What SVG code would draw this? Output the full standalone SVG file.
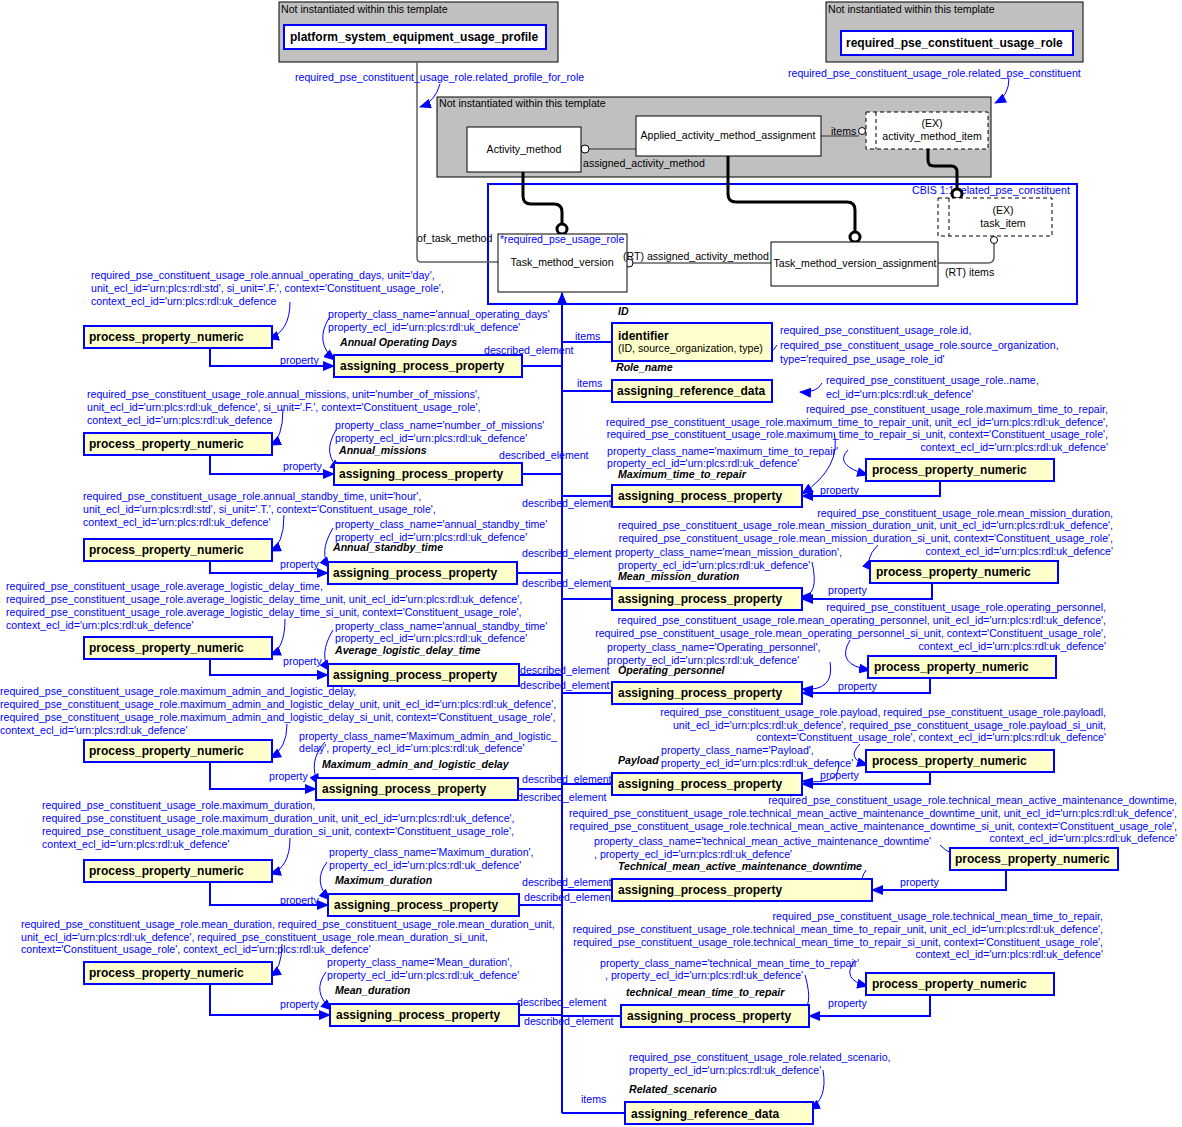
<svg xmlns="http://www.w3.org/2000/svg" width="1182" height="1127" viewBox="0 0 1182 1127">
<style>
text{font-family:"Liberation Sans",Arial,sans-serif;font-size:10.6px}
.b{fill:#0000ff}
.k{fill:#000}
.bi{font-weight:bold;font-style:italic;fill:#000}
.bx{font-weight:bold;font-size:12px;fill:#000}
.y{fill:#ffffcc;stroke:#0000ff;stroke-width:2}
.w{fill:#fff;stroke:#000;stroke-width:1}
.g{fill:#c0c0c0;stroke:#000;stroke-width:1}
.d{fill:#fff;stroke:#000;stroke-dasharray:4,3}
.bl{fill:none;stroke:#0000ff;stroke-width:2}
.bt{fill:none;stroke:#0000ff;stroke-width:1}
.gl{fill:none;stroke:#606060;stroke-width:1.5}
.th{fill:none;stroke:#000;stroke-width:3}
</style>
<defs>
<marker id="a" markerWidth="12" markerHeight="10" refX="11" refY="5" orient="auto" markerUnits="userSpaceOnUse"><path d="M0,0L12,5L0,10z" fill="#0000ff"/></marker>
</defs>
<g id="groups">
<rect class="g" x="279" y="2" width="279" height="60"/><text class="k" x="281" y="13">Not instantiated within this template</text>
<rect class="g" x="826" y="2" width="257" height="60"/><text class="k" x="828" y="13">Not instantiated within this template</text>
<rect class="g" x="437" y="97" width="554" height="80"/><text class="k" x="439" y="107">Not instantiated within this template</text>
<rect fill="none" stroke="#0000ff" stroke-width="2" x="488" y="184" width="589" height="120"/><text class="b" x="912" y="194">CBIS 1:1 related_pse_constituent</text>
</g>
<g id="connectors">
<path class="gl" d="M417,62V258q0,4 4,4H498"/>
<path class="gl" d="M589,149H650q8,0 8,-6q0,-4 8,-4H636"/>
<circle cx="585" cy="149" r="4" fill="#fff" stroke="#000"/>
<path class="gl" d="M821,136H859"/><circle cx="862" cy="131" r="3.5" fill="#fff" stroke="#000"/>
<path class="gl" d="M632,263H771"/><circle cx="629" cy="263" r="4" fill="#fff" stroke="#000"/>
<path class="gl" d="M938,263H988q6,0 6,-6V243"/><circle cx="994" cy="240" r="3.5" fill="#fff" stroke="#000"/>
<path class="th" d="M523,172V196q0,8 8,8H554q8,0 8,8V224"/><circle cx="562" cy="229" r="5" fill="#fff" stroke="#000" stroke-width="3"/>
<path class="th" d="M728,156V194q0,8 8,8H847q8,0 8,8V232"/><circle cx="855" cy="237" r="5" fill="#fff" stroke="#000" stroke-width="3"/>
<path class="th" d="M928,149V160q0,6 6,6H951q6,0 6,6V189"/><circle cx="957" cy="194" r="5" fill="#fff" stroke="#000" stroke-width="3"/>
<path class="bt" d="M440,84q-5,18 -20,23" marker-end="url(#a)"/>
<path class="bt" d="M1009,78q0,18 -14,25" marker-end="url(#a)"/>
<path class="bl" d="M562,1113V293" marker-end="url(#a)"/>
<path class="bl" d="M522,366H562M522,474H562M517,573H562M519,675H562M518,789H562M519,905H562M519,1015H562"/>
<path class="bl" d="M562,342H612M562,391H612M562,496H612M562,599H612M562,693H612M562,784H612M562,890H612M562,1016H621M562,1113H625"/>
<path class="bl" d="M210,348V366H334" marker-end="url(#a)"/>
<path class="bl" d="M210,455V474H334" marker-end="url(#a)"/>
<path class="bl" d="M210,561V573H328" marker-end="url(#a)"/>
<path class="bl" d="M210,659V675H328" marker-end="url(#a)"/>
<path class="bl" d="M210,762V789H316" marker-end="url(#a)"/>
<path class="bl" d="M210,882V905H328" marker-end="url(#a)"/>
<path class="bl" d="M210,984V1015H330" marker-end="url(#a)"/>
<path class="bl" d="M940,481V496H802" marker-end="url(#a)"/>
<path class="bl" d="M932,583V599H802" marker-end="url(#a)"/>
<path class="bl" d="M930,678V693H802" marker-end="url(#a)"/>
<path class="bl" d="M930,772V784H802" marker-end="url(#a)"/>
<path class="bl" d="M1006,870V890H872" marker-end="url(#a)"/>
<path class="bl" d="M930,995V1016H809" marker-end="url(#a)"/>
<path class="bt" d="M290,302q0,30 -22,37" marker-end="url(#a)"/>
<path class="bt" d="M283,409q0,30 -13,36" marker-end="url(#a)"/>
<path class="bt" d="M284,515q0,30 -14,36" marker-end="url(#a)"/>
<path class="bt" d="M285,619q0,30 -15,36" marker-end="url(#a)"/>
<path class="bt" d="M287,724q0,25 -17,34" marker-end="url(#a)"/>
<path class="bt" d="M290,838q0,30 -20,36" marker-end="url(#a)"/>
<path class="bt" d="M282,944q0,25 -12,32" marker-end="url(#a)"/>
<path class="bt" d="M329,318q-15,25 6,42" marker-end="url(#a)"/>
<path class="bt" d="M336,430q-15,25 5,40" marker-end="url(#a)"/>
<path class="bt" d="M333,528q-15,25 -3,40" marker-end="url(#a)"/>
<path class="bt" d="M333,630q-15,25 -3,41" marker-end="url(#a)"/>
<path class="bt" d="M325,742q-18,20 -6,43" marker-end="url(#a)"/>
<path class="bt" d="M327,862q-15,20 3,38" marker-end="url(#a)"/>
<path class="bt" d="M326,972q-15,20 6,38" marker-end="url(#a)"/>
<path class="bt" d="M777,345q-5,10 -22,14" marker-end="url(#a)"/>
<path class="bt" d="M822,383q-5,10 -22,9" marker-end="url(#a)"/>
<path class="bt" d="M834,432q8,35 -32,62" marker-end="url(#a)"/>
<path class="bt" d="M848,450q-15,15 20,25" marker-end="url(#a)"/>
<path class="bt" d="M812,562q8,35 -12,35" marker-end="url(#a)"/>
<path class="bt" d="M878,545q-15,15 -5,26" marker-end="url(#a)"/>
<path class="bt" d="M830,662q5,30 -28,27" marker-end="url(#a)"/>
<path class="bt" d="M850,640q-15,25 20,30" marker-end="url(#a)"/>
<path class="bt" d="M838,761q5,25 -36,20" marker-end="url(#a)"/>
<path class="bt" d="M860,744q-15,15 8,21" marker-end="url(#a)"/>
<path class="bt" d="M866,870q-10,15 5,18" marker-end="url(#a)"/>
<path class="bt" d="M940,845q10,10 22,12" marker-end="url(#a)"/>
<path class="bt" d="M805,975q10,35 -7,38" marker-end="url(#a)"/>
<path class="bt" d="M855,960q-15,20 13,26" marker-end="url(#a)"/>
<path class="bt" d="M823,1070q5,30 -14,39" marker-end="url(#a)"/>
</g>
<g id="n_platform"><rect x="284" y="25" width="262" height="24" fill="#fff" stroke="#0000ff" stroke-width="2"/><text class="bx" x="290" y="41">platform_system_equipment_usage_profile</text></g>
<g id="n_role"><rect x="841" y="31" width="232" height="24" fill="#fff" stroke="#0000ff" stroke-width="2"/><text class="bx" x="846" y="47">required_pse_constituent_usage_role</text></g>
<g id="n_am"><rect class="w" x="467" y="127" width="114" height="45"/><text class="k" x="524" y="153" text-anchor="middle">Activity_method</text></g>
<g id="n_aama"><rect class="w" x="636" y="116" width="185" height="40"/><text class="k" x="728" y="139" text-anchor="middle">Applied_activity_method_assignment</text></g>
<g id="n_ami"><rect class="d" x="866" y="112" width="122" height="37"/><path d="M876,112V149" stroke="#000" stroke-dasharray="4,3"/><text class="k" x="932" y="127" text-anchor="middle">(EX)</text><text class="k" x="932" y="140" text-anchor="middle">activity_method_item</text></g>
<g id="n_tmv"><rect class="w" x="498" y="234" width="129" height="58"/><text class="b" x="500" y="243">*required_pse_usage_role</text><text class="k" x="562" y="266" text-anchor="middle">Task_method_version</text></g>
<g id="n_tmva"><rect class="w" x="771" y="242" width="167" height="44"/><text class="k" x="855" y="267" text-anchor="middle">Task_method_version_assignment</text></g>
<g id="n_ti"><rect class="d" x="938" y="198" width="114" height="38"/><path d="M949,198V236" stroke="#000" stroke-dasharray="4,3"/><text class="k" x="1003" y="214" text-anchor="middle">(EX)</text><text class="k" x="1003" y="227" text-anchor="middle">task_item</text></g>
<g id="labels_top">
<text class="b" x="295" y="81">required_pse_constituent_usage_role.related_profile_for_role</text>
<text class="b" x="788" y="77">required_pse_constituent_usage_role.related_pse_constituent</text>
<text class="k" x="831" y="135">items</text>
<text class="k" x="583" y="167">assigned_activity_method</text>
<text class="k" x="417" y="242">of_task_method</text>
<text class="k" x="623" y="260">(RT) assigned_activity_method</text>
<text class="k" x="945" y="276">(RT) items</text>
</g>
<g id="left">
<rect class="y" x="84" y="326" width="188" height="22"/><text class="bx" x="89" y="341">process_property_numeric</text>
<rect class="y" x="334" y="355" width="188" height="22"/><text class="bx" x="340" y="370">assigning_process_property</text>
<rect class="y" x="84" y="433" width="188" height="22"/><text class="bx" x="89" y="448">process_property_numeric</text>
<rect class="y" x="334" y="463" width="188" height="22"/><text class="bx" x="339" y="478">assigning_process_property</text>
<rect class="y" x="84" y="539" width="188" height="22"/><text class="bx" x="89" y="554">process_property_numeric</text>
<rect class="y" x="328" y="562" width="189" height="22"/><text class="bx" x="333" y="577">assigning_process_property</text>
<rect class="y" x="84" y="637" width="188" height="22"/><text class="bx" x="89" y="652">process_property_numeric</text>
<rect class="y" x="328" y="664" width="191" height="22"/><text class="bx" x="333" y="679">assigning_process_property</text>
<rect class="y" x="84" y="740" width="188" height="22"/><text class="bx" x="89" y="755">process_property_numeric</text>
<rect class="y" x="316" y="778" width="202" height="22"/><text class="bx" x="322" y="793">assigning_process_property</text>
<rect class="y" x="84" y="860" width="188" height="22"/><text class="bx" x="89" y="875">process_property_numeric</text>
<rect class="y" x="328" y="894" width="191" height="22"/><text class="bx" x="334" y="909">assigning_process_property</text>
<rect class="y" x="84" y="962" width="188" height="22"/><text class="bx" x="89" y="977">process_property_numeric</text>
<rect class="y" x="330" y="1004" width="189" height="22"/><text class="bx" x="336" y="1019">assigning_process_property</text>
<g class="b">
<text x="91" y="279">required_pse_constituent_usage_role.annual_operating_days, unit='day',</text>
<text x="91" y="292">unit_ecl_id='urn:plcs:rdl:std', si_unit='.F.', context='Constituent_usage_role',</text>
<text x="91" y="305">context_ecl_id='urn:plcs:rdl:uk_defence</text>
<text x="328" y="318">property_class_name='annual_operating_days'</text>
<text x="328" y="331">property_ecl_id='urn:plcs:rdl:uk_defence'</text>
<text x="280" y="364">property</text><text x="484" y="354">described_element</text>
<text x="87" y="398">required_pse_constituent_usage_role.annual_missions, unit='number_of_missions',</text>
<text x="87" y="411">unit_ecl_id='urn:plcs:rdl:uk_defence', si_unit='.F.', context='Constituent_usage_role',</text>
<text x="87" y="424">context_ecl_id='urn:plcs:rdl:uk_defence</text>
<text x="335" y="429">property_class_name='number_of_missions'</text>
<text x="335" y="442">property_ecl_id='urn:plcs:rdl:uk_defence'</text>
<text x="283" y="470">property</text><text x="499" y="459">described_element</text>
<text x="83" y="500">required_pse_constituent_usage_role.annual_standby_time, unit='hour',</text>
<text x="83" y="513">unit_ecl_id='urn:plcs:rdl:std', si_unit='.T.', context='Constituent_usage_role',</text>
<text x="83" y="526">context_ecl_id='urn:plcs:rdl:uk_defence'</text>
<text x="335" y="528">property_class_name='annual_standby_time'</text>
<text x="335" y="541">property_ecl_id='urn:plcs:rdl:uk_defence'</text>
<text x="280" y="568">property</text><text x="522" y="557">described_element</text><text x="522" y="587">described_element</text>
<text x="6" y="590">required_pse_constituent_usage_role.average_logistic_delay_time,</text>
<text x="6" y="603">required_pse_constituent_usage_role.average_logistic_delay_time_unit, unit_ecl_id='urn:plcs:rdl:uk_defence',</text>
<text x="6" y="616">required_pse_constituent_usage_role.average_logistic_delay_time_si_unit, context='Constituent_usage_role',</text>
<text x="6" y="629">context_ecl_id='urn:plcs:rdl:uk_defence'</text>
<text x="335" y="630">property_class_name='annual_standby_time'</text>
<text x="335" y="642">property_ecl_id='urn:plcs:rdl:uk_defence'</text>
<text x="283" y="665">property</text><text x="520" y="674">described_element</text><text x="520" y="689">described_element</text>
<text x="0" y="695">required_pse_constituent_usage_role.maximum_admin_and_logistic_delay,</text>
<text x="0" y="708">required_pse_constituent_usage_role.maximum_admin_and_logistic_delay_unit, unit_ecl_id='urn:plcs:rdl:uk_defence',</text>
<text x="0" y="721">required_pse_constituent_usage_role.maximum_admin_and_logistic_delay_si_unit, context='Constituent_usage_role',</text>
<text x="0" y="734">context_ecl_id='urn:plcs:rdl:uk_defence'</text>
<text x="299" y="740">property_class_name='Maximum_admin_and_logistic_</text>
<text x="299" y="752">delay', property_ecl_id='urn:plcs:rdl:uk_defence'</text>
<text x="269" y="780">property</text><text x="522" y="783">described_element</text><text x="517" y="801">described_element</text>
<text x="42" y="809">required_pse_constituent_usage_role.maximum_duration,</text>
<text x="42" y="822">required_pse_constituent_usage_role.maximum_duration_unit, unit_ecl_id='urn:plcs:rdl:uk_defence',</text>
<text x="42" y="835">required_pse_constituent_usage_role.maximum_duration_si_unit, context='Constituent_usage_role',</text>
<text x="42" y="848">context_ecl_id='urn:plcs:rdl:uk_defence'</text>
<text x="329" y="856">property_class_name='Maximum_duration',</text>
<text x="329" y="869">property_ecl_id='urn:plcs:rdl:uk_defence'</text>
<text x="280" y="904">property</text><text x="522" y="886">described_element</text><text x="524" y="901">described_element</text>
<text x="21" y="928">required_pse_constituent_usage_role.mean_duration, required_pse_constituent_usage_role.mean_duration_unit,</text>
<text x="21" y="941">unit_ecl_id='urn:plcs:rdl:uk_defence', required_pse_constituent_usage_role.mean_duration_si_unit,</text>
<text x="21" y="953">context='Constituent_usage_role', context_ecl_id='urn:plcs:rdl:uk_defence'</text>
<text x="327" y="966">property_class_name='Mean_duration',</text>
<text x="327" y="979">property_ecl_id='urn:plcs:rdl:uk_defence'</text>
<text x="280" y="1008">property</text><text x="517" y="1006">described_element</text><text x="524" y="1025">described_element</text>
</g>
<text class="bi" x="340" y="346">Annual Operating Days</text>
<text class="bi" x="339" y="454">Annual_missions</text>
<text class="bi" x="333" y="551">Annual_standby_time</text>
<text class="bi" x="335" y="654">Average_logistic_delay_time</text>
<text class="bi" x="322" y="768">Maximum_admin_and_logistic_delay</text>
<text class="bi" x="335" y="884">Maximum_duration</text>
<text class="bi" x="335" y="994">Mean_duration</text>
</g>
<g id="right">
<rect class="y" x="612" y="323" width="160" height="38"/><text class="bx" x="618" y="340">identifier</text><text class="k" x="618" y="352">(ID, source_organization, type)</text>
<rect class="y" x="612" y="380" width="160" height="22"/><text class="bx" x="617" y="395">assigning_reference_data</text>
<rect class="y" x="612" y="485" width="190" height="22"/><text class="bx" x="618" y="500">assigning_process_property</text>
<rect class="y" x="866" y="459" width="188" height="22"/><text class="bx" x="872" y="474">process_property_numeric</text>
<rect class="y" x="612" y="588" width="190" height="22"/><text class="bx" x="618" y="603">assigning_process_property</text>
<rect class="y" x="870" y="561" width="188" height="22"/><text class="bx" x="876" y="576">process_property_numeric</text>
<rect class="y" x="612" y="682" width="190" height="22"/><text class="bx" x="618" y="697">assigning_process_property</text>
<rect class="y" x="868" y="656" width="188" height="22"/><text class="bx" x="874" y="671">process_property_numeric</text>
<rect class="y" x="612" y="773" width="190" height="22"/><text class="bx" x="618" y="788">assigning_process_property</text>
<rect class="y" x="866" y="750" width="188" height="22"/><text class="bx" x="872" y="765">process_property_numeric</text>
<rect class="y" x="612" y="879" width="260" height="22"/><text class="bx" x="618" y="894">assigning_process_property</text>
<rect class="y" x="950" y="848" width="168" height="22"/><text class="bx" x="955" y="863">process_property_numeric</text>
<rect class="y" x="621" y="1005" width="188" height="22"/><text class="bx" x="627" y="1020">assigning_process_property</text>
<rect class="y" x="866" y="973" width="188" height="22"/><text class="bx" x="872" y="988">process_property_numeric</text>
<rect class="y" x="625" y="1102" width="188" height="22"/><text class="bx" x="631" y="1118">assigning_reference_data</text>
<g class="b">
<text x="575" y="340">items</text><text x="577" y="387">items</text>
<text x="780" y="334">required_pse_constituent_usage_role.id,</text>
<text x="780" y="349">required_pse_constituent_usage_role.source_organization,</text>
<text x="780" y="363">type='required_pse_usage_role_id'</text>
<text x="826" y="384">required_pse_constituent_usage_role..name,</text>
<text x="826" y="398">ecl_id='urn:plcs:rdl:uk_defence'</text>
<g text-anchor="end">
<text x="1108" y="413">required_pse_constituent_usage_role.maximum_time_to_repair,</text>
<text x="1108" y="426">required_pse_constituent_usage_role.maximum_time_to_repair_unit, unit_ecl_id='urn:plcs:rdl:uk_defence',</text>
<text x="1108" y="438">required_pse_constituent_usage_role.maximum_time_to_repair_si_unit, context='Constituent_usage_role',</text>
<text x="1108" y="451">context_ecl_id='urn:plcs:rdl:uk_defence'</text>
<text x="1113" y="517">required_pse_constituent_usage_role.mean_mission_duration,</text>
<text x="1113" y="529">required_pse_constituent_usage_role.mean_mission_duration_unit, unit_ecl_id='urn:plcs:rdl:uk_defence',</text>
<text x="1113" y="542">required_pse_constituent_usage_role.mean_mission_duration_si_unit, context='Constituent_usage_role',</text>
<text x="1113" y="555">context_ecl_id='urn:plcs:rdl:uk_defence'</text>
<text x="1106" y="611">required_pse_constituent_usage_role.operating_personnel,</text>
<text x="1106" y="624">required_pse_constituent_usage_role.mean_operating_personnel, unit_ecl_id='urn:plcs:rdl:uk_defence',</text>
<text x="1106" y="637">required_pse_constituent_usage_role.mean_operating_personnel_si_unit, context='Constituent_usage_role',</text>
<text x="1106" y="650">context_ecl_id='urn:plcs:rdl:uk_defence'</text>
<text x="1106" y="716">required_pse_constituent_usage_role.payload, required_pse_constituent_usage_role.payloadl,</text>
<text x="1106" y="729">unit_ecl_id='urn:plcs:rdl:uk_defence', required_pse_constituent_usage_role.payload_si_unit,</text>
<text x="1106" y="741">context='Constituent_usage_role', context_ecl_id='urn:plcs:rdl:uk_defence'</text>
<text x="1177" y="804">required_pse_constituent_usage_role.technical_mean_active_maintenance_downtime,</text>
<text x="1177" y="817">required_pse_constituent_usage_role.technical_mean_active_maintenance_downtime_unit, unit_ecl_id='urn:plcs:rdl:uk_defence',</text>
<text x="1177" y="830">required_pse_constituent_usage_role.technical_mean_active_maintenance_downtime_si_unit, context='Constituent_usage_role',</text>
<text x="1177" y="842">context_ecl_id='urn:plcs:rdl:uk_defence'</text>
<text x="1103" y="920">required_pse_constituent_usage_role.technical_mean_time_to_repair,</text>
<text x="1103" y="933">required_pse_constituent_usage_role.technical_mean_time_to_repair_unit, unit_ecl_id='urn:plcs:rdl:uk_defence',</text>
<text x="1103" y="946">required_pse_constituent_usage_role.technical_mean_time_to_repair_si_unit, context='Constituent_usage_role',</text>
<text x="1103" y="958">context_ecl_id='urn:plcs:rdl:uk_defence'</text>
</g>
<text x="607" y="455">property_class_name='maximum_time_to_repair'</text>
<text x="607" y="467">property_ecl_id='urn:plcs:rdl:uk_defence'</text>
<text x="820" y="494">property</text><text x="522" y="507">described_element</text>
<text x="615" y="556">property_class_name='mean_mission_duration',</text>
<text x="618" y="569">property_ecl_id='urn:plcs:rdl:uk_defence'</text>
<text x="828" y="594">property</text>
<text x="607" y="651">property_class_name='Operating_personnel',</text>
<text x="607" y="664">property_ecl_id='urn:plcs:rdl:uk_defence'</text>
<text x="838" y="690">property</text>
<text x="661" y="754">property_class_name='Payload',</text>
<text x="661" y="767">property_ecl_id='urn:plcs:rdl:uk_defence'</text>
<text x="820" y="779">property</text>
<text x="594" y="845">property_class_name='technical_mean_active_maintenance_downtime'</text>
<text x="594" y="858">, property_ecl_id='urn:plcs:rdl:uk_defence'</text>
<text x="900" y="886">property</text>
<text x="600" y="967">property_class_name='technical_mean_time_to_repair'</text>
<text x="605" y="979">, property_ecl_id='urn:plcs:rdl:uk_defence'</text>
<text x="828" y="1007">property</text>
<text x="629" y="1061">required_pse_constituent_usage_role.related_scenario,</text>
<text x="629" y="1074">property_ecl_id='urn:plcs:rdl:uk_defence'</text>
<text x="581" y="1103">items</text>
</g>
<text class="bi" x="618" y="315">ID</text>
<text class="bi" x="616" y="371">Role_name</text>
<text class="bi" x="618" y="478">Maximum_time_to_repair</text>
<text class="bi" x="618" y="580">Mean_mission_duration</text>
<text class="bi" x="618" y="674">Operating_personnel</text>
<text class="bi" x="618" y="764">Payload</text>
<text class="bi" x="618" y="870">Technical_mean_active_maintenance_downtime</text>
<text class="bi" x="626" y="996">technical_mean_time_to_repair</text>
<text class="bi" x="629" y="1093">Related_scenario</text>
</g>
</svg>
